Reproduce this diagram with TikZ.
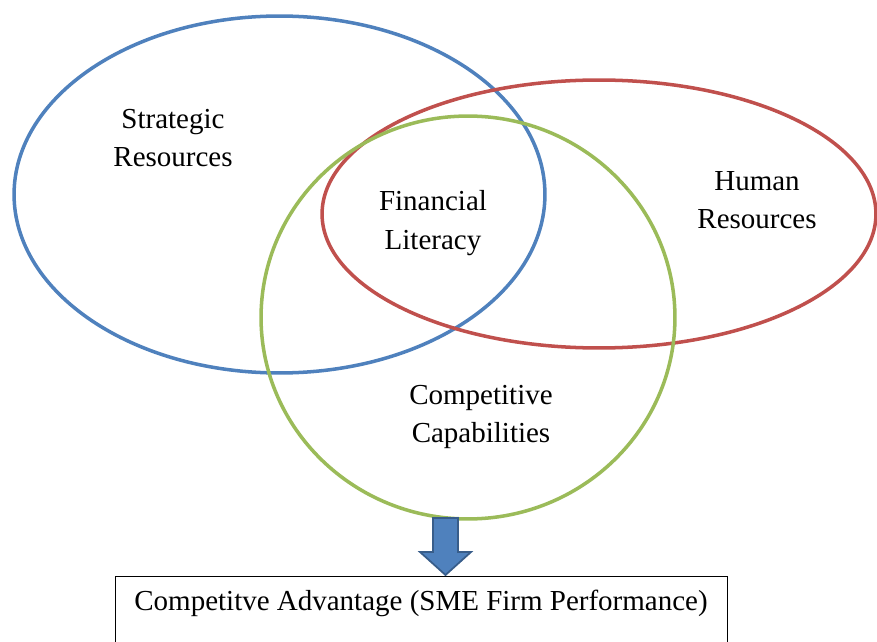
\documentclass[tikz,border=0pt]{standalone}
\usepackage{fontspec}
\setmainfont{Liberation Serif}
\definecolor{stratblue}{HTML}{4F81BD}
\definecolor{humanred}{HTML}{C0504D}
\definecolor{capgreen}{HTML}{9BBB59}
\definecolor{arrowedge}{HTML}{385D8A}
\tikzset{
  ring/.style = {line width = 2pt},
  label text/.style = {align = center, font = \fontsize{16.5}{22}\selectfont},
}
\begin{document}
\begin{tikzpicture}[x = 0.02cm, y = -0.02cm]

            \clip (0, 0) rectangle (877, 642);

            \draw[ring, stratblue] (279.5, 194.5) ellipse [x radius = 5.31cm, y radius = 3.57cm];
            \draw[ring, humanred] (599, 214) ellipse [x radius = 5.54cm, y radius = 2.68cm];
            \draw[ring, capgreen] (468, 317.5) ellipse [x radius = 4.14cm, y radius = 4.03cm];

            \node (strat) at (173, 138) [label text] {Strategic\\Resources};
            \node (fin) at (433, 223) [label text] {Financial\\Literacy};
            \node (human) at (757, 200) [label text] {Human\\Resources};
            \node (capab) at (481, 417) [label text] {Competitive\\Capabilities};

            \node (advbox) at (421, 576) [draw, anchor = north, minimum width = 12.24cm, minimum height = 2cm] {};
            \node (adv) at (421, 603) [label text] {Competitve Advantage (SME Firm Performance)};

            \coordinate (arrtip) at (445.5, 575);
            \fill[stratblue, draw = arrowedge, line width = 1pt]
                (433, 518) -- (458, 518) -- (458, 552) -- (471, 552)
                -- (arrtip) -- (420, 552) -- (433, 552) -- cycle;
        \end{tikzpicture}
\end{document}
